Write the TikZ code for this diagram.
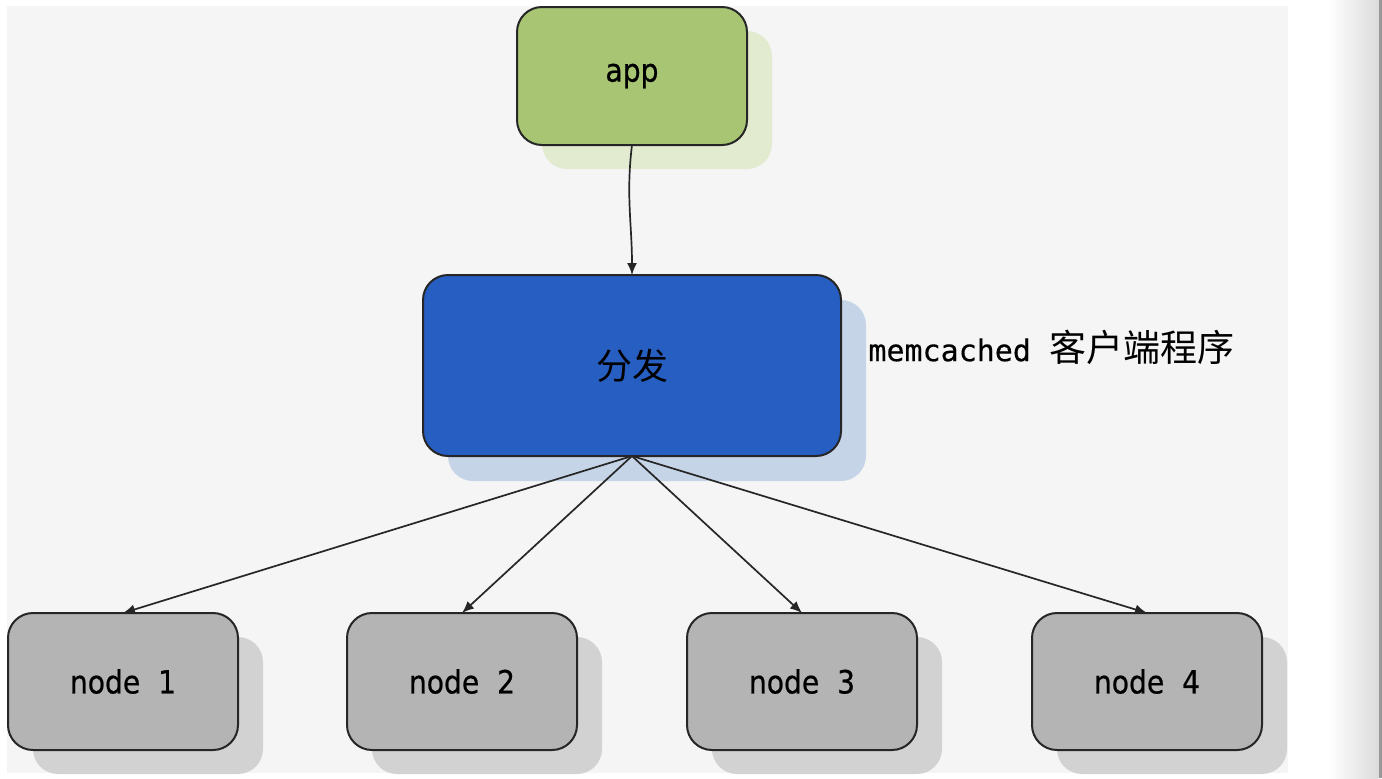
\documentclass[tikz,border=0pt]{standalone}
\usepackage{fontspec}
\setmainfont{DejaVu Sans}
\setmonofont{DejaVu Sans Mono}[FakeBold=0.4]
\newfontfamily\cjk{Noto Sans CJK SC}
\newfontfamily\narrowfont[FakeStretch=0.88,FakeBold=0.6]{DejaVu Sans}
\usetikzlibrary{shapes,shadows,arrows.meta}

\definecolor{bgpanel}{HTML}{F5F5F5}
\definecolor{appfill}{HTML}{A8C574}
\definecolor{appshade}{HTML}{E2EBCF}
\definecolor{distfill}{HTML}{275EC2}
\definecolor{distshade}{HTML}{C6D4E8}
\definecolor{srvfill}{HTML}{B4B4B4}
\definecolor{srvshade}{HTML}{D2D2D2}
\definecolor{edge}{HTML}{262626}

\begin{document}
\begin{tikzpicture}[x=0.5pt,y=-0.5pt]
        \tikzstyle{box}=[rectangle,rounded corners=12.5pt,draw=edge,line width=1pt,inner sep=0pt,outer sep=0pt]
        \tikzstyle{appbox}=[box,fill=appfill,minimum width=115pt,minimum height=69pt,
            drop shadow={shadow xshift=12.5pt,shadow yshift=-12pt,fill=appshade,opacity=1,draw=none}]
        \tikzstyle{distbox}=[box,fill=distfill,minimum width=209pt,minimum height=90.5pt,
            drop shadow={shadow xshift=12.5pt,shadow yshift=-12.5pt,fill=distshade,opacity=1,draw=none}]
        \tikzstyle{srvbox}=[box,fill=srvfill,minimum width=115pt,minimum height=68.5pt,
            drop shadow={shadow xshift=12.5pt,shadow yshift=-12pt,fill=srvshade,opacity=1,draw=none}]
        \tikzstyle{conn}=[draw=edge,line width=0.85pt,-{Latex[length=6pt,width=5pt]}]
        \useasboundingbox (0,0) rectangle (1382,778);
        % page background
        \fill[white] (0,0) rectangle (1382,778);
        \fill[bgpanel] (7,6) rectangle (1288,773);
        \shade[left color=white,right color=black!14] (1328,0) rectangle (1379,778);
        \fill[black!40] (1379,0) rectangle (1382,778);
        % boxes
        \node[appbox] (app) at (632,76) {\narrowfont\fontsize{16}{19}\selectfont\raisebox{-1.5pt}{app}};
        \node[distbox] (dist) at (632,365.5) {\cjk\fontsize{18}{21}\selectfont 分发};
        \node[srvbox] (n1) at (123,681.5) {\narrowfont\fontsize{16}{19}\selectfont node\ \ 1};
        \node[srvbox] (n2) at (462,681.5) {\narrowfont\fontsize{16}{19}\selectfont node\ \ 2};
        \node[srvbox] (n3) at (802,681.5) {\narrowfont\fontsize{16}{19}\selectfont node\ \ 3};
        \node[srvbox] (n4) at (1147,681.5) {\narrowfont\fontsize{16}{19}\selectfont node\ \ 4};
        \node[anchor=west,inner sep=0pt] (client) at (868,347)
            {\ttfamily\fontsize{15}{18}\selectfont memcached {\cjk\fontsize{18.5}{21}\selectfont 客户端程序}};
        % connectors
        \draw[conn] (app.south) to[out=-97,in=90] (dist.north);
        \draw[conn] (dist.south) -- (n1.north);
        \draw[conn] (dist.south) -- (n2.north);
        \draw[conn] (dist.south) -- (n3.north);
        \draw[conn] (dist.south) -- (n4.north);
\end{tikzpicture}
\end{document}
